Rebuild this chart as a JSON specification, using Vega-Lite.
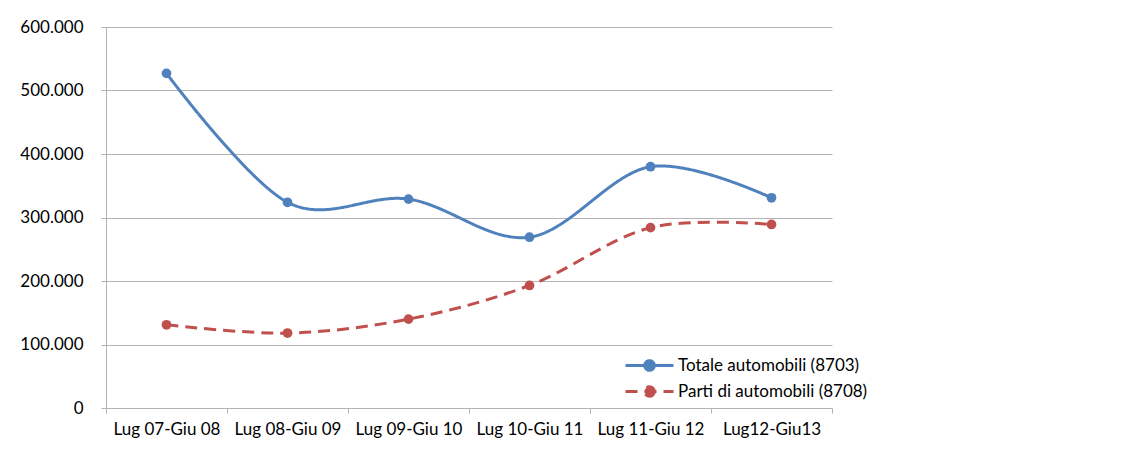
{
  "$schema": "https://vega.github.io/schema/vega-lite/v6.json",
  "width": 726,
  "height": 381,
  "autosize": {"type": "none"},
  "padding": {"left": 106, "top": 27, "right": 297, "bottom": 45},
  "background": "white",
  "config": {
    "view": {"stroke": null},
    "font": "Lato"
  },
  "data": {
    "values": [
      {"periodo": "Lug 07-Giu 08", "serie": "Totale automobili (8703)", "valore": 527000},
      {"periodo": "Lug 08-Giu 09", "serie": "Totale automobili (8703)", "valore": 324000},
      {"periodo": "Lug 09-Giu 10", "serie": "Totale automobili (8703)", "valore": 329000},
      {"periodo": "Lug 10-Giu 11", "serie": "Totale automobili (8703)", "valore": 269000},
      {"periodo": "Lug 11-Giu 12", "serie": "Totale automobili (8703)", "valore": 380000},
      {"periodo": "Lug12-Giu13", "serie": "Totale automobili (8703)", "valore": 331000},
      {"periodo": "Lug 07-Giu 08", "serie": "Parti di automobili (8708)", "valore": 131000},
      {"periodo": "Lug 08-Giu 09", "serie": "Parti di automobili (8708)", "valore": 118000},
      {"periodo": "Lug 09-Giu 10", "serie": "Parti di automobili (8708)", "valore": 140000},
      {"periodo": "Lug 10-Giu 11", "serie": "Parti di automobili (8708)", "valore": 193000},
      {"periodo": "Lug 11-Giu 12", "serie": "Parti di automobili (8708)", "valore": 284000},
      {"periodo": "Lug12-Giu13", "serie": "Parti di automobili (8708)", "valore": 289000}
    ]
  },
  "encoding": {
    "x": {
      "field": "periodo",
      "type": "nominal",
      "sort": null,
      "scale": {"type": "band", "paddingInner": 0, "paddingOuter": 0},
      "axis": {
        "title": null,
        "labelAngle": 0,
        "tickBand": "extent",
        "ticks": true,
        "tickSize": 5,
        "tickColor": "#b3b3b3",
        "domainColor": "#b3b3b3",
        "grid": false,
        "labelFontSize": 17,
        "labelFont": "Lato",
        "labelColor": "#000000",
        "labelPadding": 8,
        "labelLimit": 200
      }
    },
    "y": {
      "field": "valore",
      "type": "quantitative",
      "scale": {"domain": [0, 600000], "nice": false},
      "axis": {
        "title": null,
        "values": [0, 100000, 200000, 300000, 400000, 500000, 600000],
        "labelExpr": "replace(format(datum.value, ','), ',', '.')",
        "grid": true,
        "gridColor": "#b3b3b3",
        "domainColor": "#b3b3b3",
        "tickColor": "#b3b3b3",
        "tickSize": 5,
        "labelPadding": 18,
        "labelFontSize": 17,
        "labelFont": "Lato",
        "labelColor": "#000000"
      }
    },
    "color": {
      "field": "serie",
      "type": "nominal",
      "sort": null,
      "scale": {
        "domain": ["Totale automobili (8703)", "Parti di automobili (8708)"],
        "range": ["#4F81BD", "#C0504D"]
      },
      "legend": {
        "title": null,
        "orient": "none",
        "legendX": 530,
        "legendY": 325,
        "symbolType": "M-2,0L2,0M0.4,0A0.4,0.4,0,1,1,-0.4,0A0.4,0.4,0,1,1,0.4,0Z",
        "symbolSize": 576,
        "symbolStrokeWidth": 3,
        "labelFontSize": 17,
        "labelFont": "Lato",
        "labelColor": "#000000",
        "labelOffset": 15,
        "labelLimit": 400,
        "rowPadding": 1
      }
    }
  },
  "layer": [
    {
      "mark": {"type": "line", "interpolate": "cardinal", "strokeWidth": 3},
      "encoding": {
        "strokeDash": {
          "field": "serie",
          "type": "nominal",
          "sort": null,
          "scale": {
            "domain": ["Totale automobili (8703)", "Parti di automobili (8708)"],
            "range": [[1, 0], [12, 7]]
          },
          "legend": {
            "title": null,
            "orient": "none",
            "legendX": 530,
            "legendY": 325
          }
        }
      }
    },
    {
      "mark": {"type": "point", "filled": true, "size": 95, "opacity": 1}
    }
  ]
}
